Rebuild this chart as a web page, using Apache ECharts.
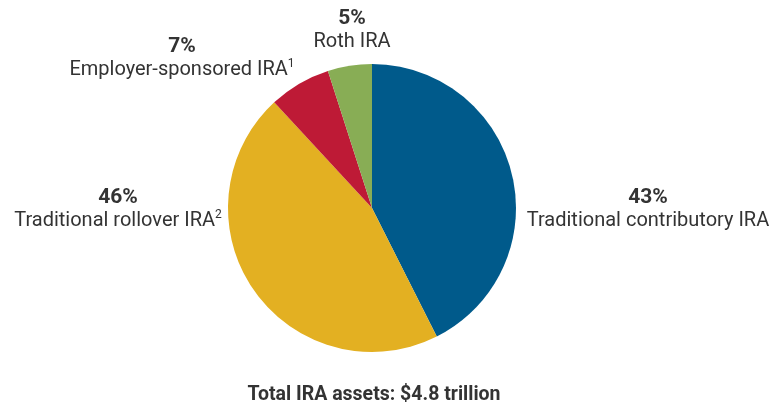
<!DOCTYPE html>
<html>
<head>
<meta charset="utf-8">
<script src="https://cdn.jsdelivr.net/npm/echarts@6/dist/echarts.min.js"></script>
<style>
  html, body { margin: 0; padding: 0; background: #ffffff; }
  #chart { width: 771px; height: 410px; }
</style>
</head>
<body>
<div id="chart"></div>
<script>
// IRA asset shares by account type (percent of total)
const categories = ['Traditional contributory IRA', 'Traditional rollover IRA', 'Employer-sponsored IRA', 'Roth IRA'];
const shares = [43, 46, 7, 5];
const footnotes = ['', '2', '1', ''];
const sliceColors = ['#005A8B', '#E3B022', '#BE1A36', '#88AD55'];
const totalLabel = 'Total IRA assets: $4.8 trillion';

// anchor points (px) for each slice label: [x of centre, y of top line]
const labelAnchors = [[648, 186], [118, 186], [182, 35], [352, 7]];

const FONT = 'Roboto, "DejaVu Sans", sans-serif';
const TEXT = '#333333';

const chart = echarts.init(document.getElementById('chart'), null, { renderer: 'canvas' });

chart.setOption({
  backgroundColor: '#ffffff',
  animation: false,
  title: {
    text: totalLabel,
    left: 369,
    textAlign: 'center',
    top: 380,
    textStyle: { fontFamily: FONT, fontSize: 19.5, fontWeight: 'bold', color: TEXT }
  },
  series: [{
    type: 'pie',
    center: [372, 208],
    radius: 144,
    startAngle: 90,
    clockwise: true,
    silent: true,
    labelLine: { show: false },
    itemStyle: { borderWidth: 0 },
    label: {
      show: true,
      position: 'outside',
      overflow: 'none',
      fontFamily: FONT,
      color: TEXT,
      align: 'center',
      formatter: function (p) {
        const sup = footnotes[p.dataIndex];
        return '{pct|' + p.value + '%}\n{name|' + p.name + '}' + (sup ? '{sup|' + sup + '}' : '');
      },
      rich: {
        pct: { fontFamily: FONT, fontSize: 21, fontWeight: 'bold', color: TEXT, lineHeight: 23, align: 'center' },
        name: { fontFamily: FONT, fontSize: 20, color: TEXT, lineHeight: 23 },
        sup: { fontFamily: FONT, fontSize: 12, color: TEXT, lineHeight: 23, verticalAlign: 'top', padding: [0, 0, 8, 0] }
      }
    },
    labelLayout: function (params) {
      const a = labelAnchors[params.dataIndex];
      return { x: a[0], y: a[1], align: 'center', verticalAlign: 'top' };
    },
    data: categories.map(function (c, i) {
      return { name: c, value: shares[i], itemStyle: { color: sliceColors[i] } };
    })
  }]
});
</script>
</body>
</html>
